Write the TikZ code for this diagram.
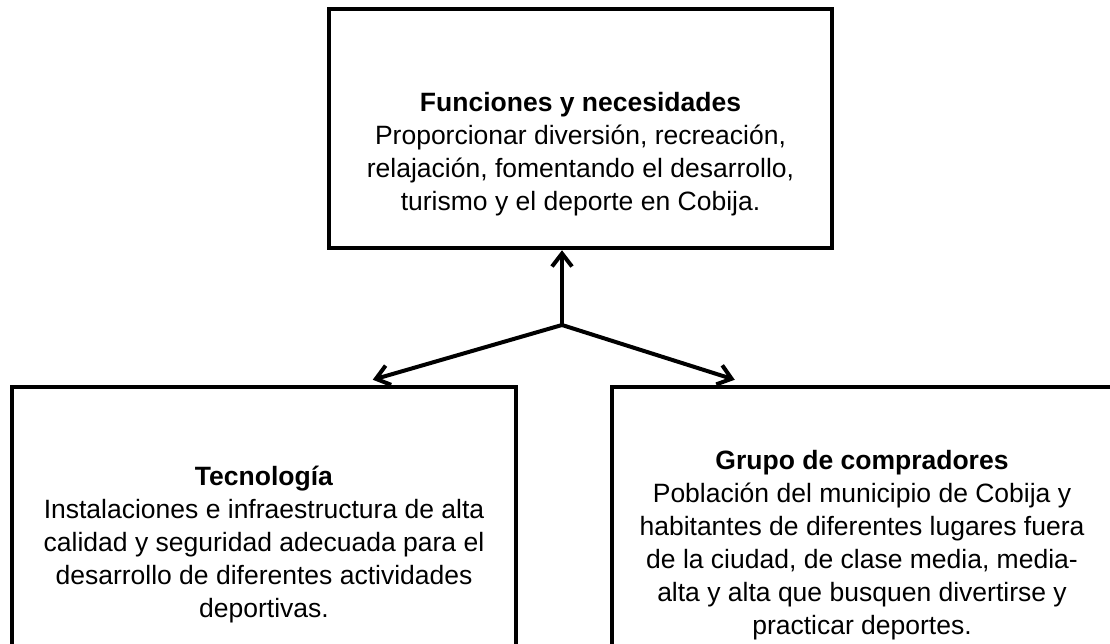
\documentclass[tikz,border=0pt]{standalone}
\usepackage{fontspec}
\setmainfont{Liberation Sans}
\usetikzlibrary{arrows.meta, positioning, calc}

\tikzset{
  caja/.style={draw, line width=4.5pt, inner sep=0pt},
  texto/.style={align=center, inner sep=0pt, font=\fontsize{26.5}{33}\selectfont},
  flecha/.style={line width=4pt, -{Straight Barb[length=13pt,width=20pt]}}
}

\begin{document}
\begin{tikzpicture}[x=1pt, y=-1pt]
  \useasboundingbox (0,0) rectangle (1110,644);
  \clip (0,0) rectangle (1110,644);
  % Cajas
  \node[caja, minimum width=503pt, minimum height=239pt] (funciones) at (580.5,128.5) {};
  \node[caja, minimum width=504pt, minimum height=316pt] (tecnologia) at (264,545) {};
  \node[caja, minimum width=500pt, minimum height=316pt] (compradores) at (862,545) {};
  % Textos
  \node[texto] (funcionestxt) at ([yshift=-26pt]funciones.center)
    {\textbf{Funciones y necesidades}\\
     Proporcionar diversión, recreación,\\
     relajación, fomentando el desarrollo,\\
     turismo y el deporte en Cobija.};
  \node[texto] (tecnologiatxt) at (tecnologia.center)
    {\textbf{Tecnología}\\
     Instalaciones e infraestructura de alta\\
     calidad y seguridad adecuada para el\\
     desarrollo de diferentes actividades\\
     deportivas.};
  \node[texto] (compradorestxt) at (compradores.center)
    {\textbf{Grupo de compradores}\\
     Población del municipio de Cobija y\\
     habitantes de diferentes lugares fuera\\
     de la ciudad, de clase media, media-\\
     alta y alta que busquen divertirse y\\
     practicar deportes.};
  % Flechas
  \coordinate (union) at (562,325);
  \draw[flecha] (union) -- (union |- funciones.south);
  \draw[flecha] (union) -- ($(tecnologia.north west)+(363,-5)$);
  \draw[flecha] (union) -- ($(compradores.north west)+(125,-5)$);
\end{tikzpicture}
\end{document}
